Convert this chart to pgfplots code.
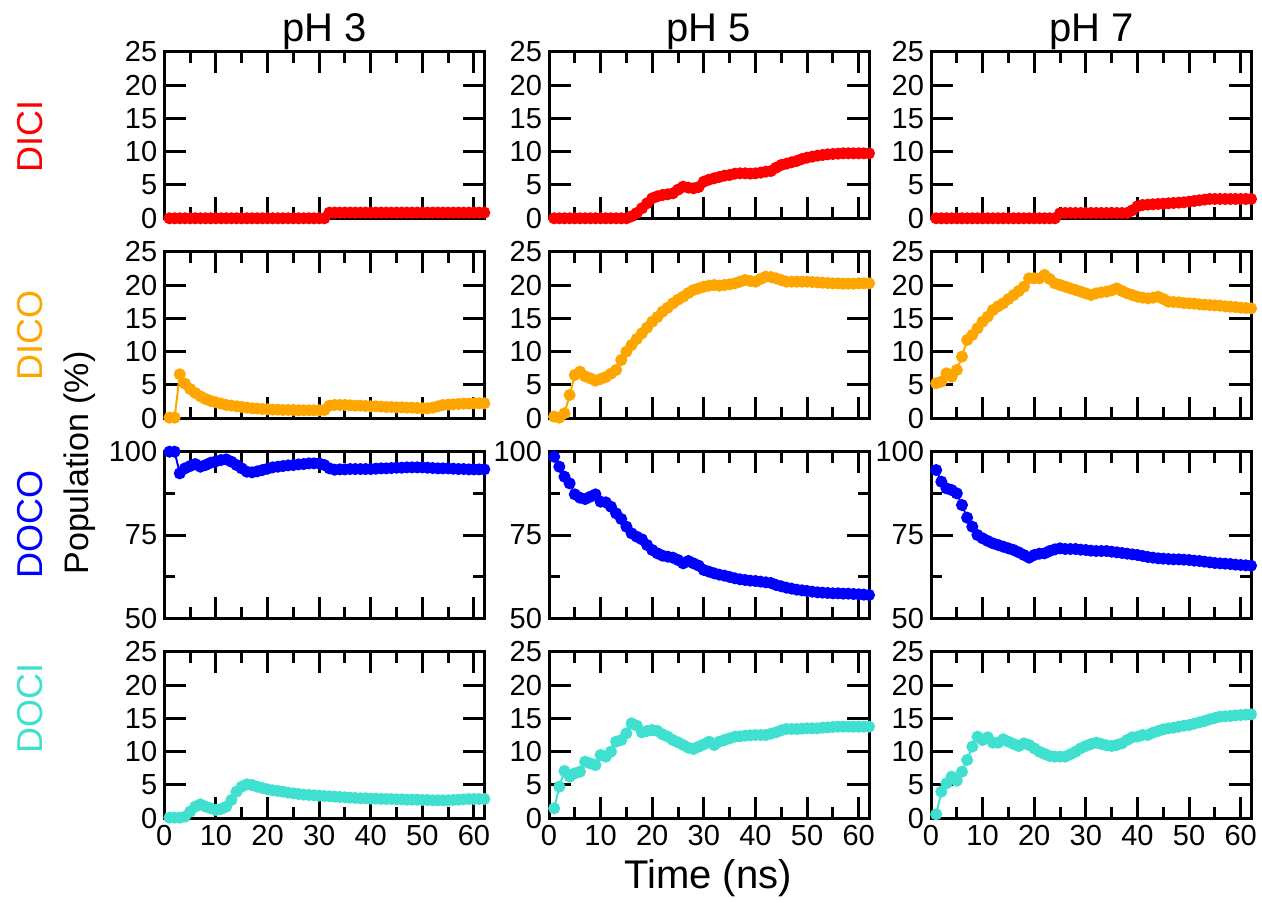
\documentclass[border=0pt]{standalone}
\usepackage{fontspec}
\setmainfont{Liberation Sans}
\usepackage{pgfplots}
\usepackage{pgfplotstable}
\pgfplotsset{compat=1.18}

\definecolor{cDICI}{RGB}{255,0,0}
\definecolor{cDICO}{RGB}{255,165,0}
\definecolor{cDOCO}{RGB}{0,0,255}
\definecolor{cDOCI}{RGB}{64,224,208}

\pgfplotstableread{
t dici dico doco doci
1 0 0.1 100 0.1
2 0 0.1 100 0.1
3 0 6.6 93.5 0.1
4 0 5.2 95 0.25
5 0 4.4 95.7 1.0
6 0 3.8 96.3 1.75
7 0 3.3 95.5 2.1
8 0 2.9 96 1.75
9 0 2.6 96.7 1.5
10 0 2.4 97.1 1.25
11 0 2.2 97.5 1.4
12 0 2.0 97.7 1.75
13 0 1.9 97 2.75
14 0 1.8 96 4.0
15 0 1.7 95 4.75
16 0 1.6 94 5.1
17 0 1.5 93.8 5.0
18 0 1.45 94.1 4.75
19 0 1.4 94.5 4.55
20 0 1.35 94.9 4.35
21 0 1.3 95.3 4.2
22 0 1.3 95.5 4.1
23 0 1.25 95.7 4.0
24 0 1.25 95.9 3.85
25 0 1.25 96 3.75
26 0 1.2 96.2 3.65
27 0 1.2 96.3 3.55
28 0 1.2 96.5 3.5
29 0 1.2 96.5 3.45
30 0 1.2 96.5 3.4
31 0 1.25 96 3.35
32 0.85 1.9 95 3.3
33 0.85 2.0 94.6 3.25
34 0.85 2.0 94.7 3.2
35 0.85 2.0 94.7 3.15
36 0.85 1.95 94.8 3.1
37 0.85 1.9 94.8 3.05
38 0.85 1.9 94.8 3.0
39 0.85 1.85 94.8 3.0
40 0.85 1.8 94.8 2.95
41 0.85 1.8 94.9 2.95
42 0.85 1.75 95 2.9
43 0.85 1.7 95 2.9
44 0.85 1.7 95.1 2.9
45 0.85 1.65 95.2 2.85
46 0.85 1.65 95.2 2.85
47 0.85 1.6 95.3 2.8
48 0.85 1.6 95.3 2.8
49 0.85 1.55 95.3 2.8
50 0.85 1.5 95.3 2.75
51 0.85 1.5 95.2 2.75
52 0.85 1.6 95.1 2.7
53 0.85 1.8 95 2.7
54 0.85 2.0 95 2.7
55 0.85 2.05 95 2.7
56 0.85 2.1 94.9 2.75
57 0.85 2.15 94.8 2.8
58 0.85 2.2 94.8 2.85
59 0.85 2.2 94.7 2.9
60 0.85 2.25 94.7 2.9
61 0.85 2.25 94.7 2.9
62 0.85 2.25 94.7 2.9
}\phthree

\pgfplotstableread{
t dici dico doco doci
1 0 0.25 98.5 1.5
2 0 0.1 95.5 4.75
3 0 0.75 92.5 7.1
4 0 3.5 90.5 6.25
5 0 6.5 87.2 6.75
6 0 7.0 86.2 7.0
7 0 6.3 85.8 8.5
8 0 6.0 86.5 8.25
9 0 5.65 87.2 8.0
10 0 5.9 85 9.5
11 0 6.2 84.8 9.25
12 0 6.7 83.5 10.0
13 0 7.25 81.5 11.5
14 0 8.75 79.8 11.75
15 0 10.0 77.5 12.75
16 0.3 11.0 75.5 14.25
17 0.8 11.9 74.5 13.9
18 1.5 12.75 73.7 12.9
19 2.25 13.6 72 13.1
20 3.0 14.5 70.5 13.25
21 3.3 15.2 69.5 13.1
22 3.5 16.0 68.8 12.6
23 3.6 16.6 68.5 12.25
24 3.75 17.25 68.2 11.75
25 4.3 17.8 67.5 11.4
26 4.75 18.25 66.5 11.0
27 4.6 18.8 67.2 10.6
28 4.5 19.25 66.5 10.4
29 4.7 19.5 65.8 10.75
30 5.5 19.75 64.5 11.1
31 5.8 19.9 64 11.5
32 6.0 20.0 63.5 11.0
33 6.2 19.9 63.1 11.5
34 6.4 20.0 62.8 11.75
35 6.5 20.1 62.4 12.0
36 6.7 20.25 62 12.25
37 6.75 20.5 61.7 12.3
38 6.75 20.75 61.5 12.4
39 6.7 20.6 61.3 12.45
40 6.75 20.5 61.2 12.5
41 6.85 20.9 61 12.5
42 7.0 21.25 60.8 12.5
43 7.1 21.2 60.6 12.7
44 7.6 21.0 60 12.9
45 8.0 20.75 59.6 13.2
46 8.2 20.5 59.2 13.4
47 8.4 20.5 58.9 13.4
48 8.6 20.5 58.6 13.4
49 8.9 20.5 58.4 13.45
50 9.1 20.5 58.2 13.5
51 9.25 20.45 58 13.5
52 9.4 20.4 57.8 13.5
53 9.5 20.35 57.7 13.6
54 9.6 20.3 57.6 13.65
55 9.65 20.25 57.5 13.7
56 9.7 20.25 57.5 13.75
57 9.75 20.2 57.4 13.75
58 9.75 20.2 57.4 13.75
59 9.75 20.2 57.3 13.75
60 9.75 20.25 57.2 13.75
61 9.75 20.25 57.1 13.75
62 9.75 20.25 57 13.75
}\phfive

\pgfplotstableread{
t dici dico doco doci
1 0 5.25 94.5 0.6
2 0 5.5 91 4.0
3 0 6.75 89 5.25
4 0 6.25 88.5 6.25
5 0 7.25 87.5 5.65
6 0 9.25 84 7.0
7 0 11.75 80.2 8.75
8 0 12.5 77.5 10.75
9 0 13.5 75 12.25
10 0 14.5 74 11.75
11 0 15.25 73.2 12.15
12 0 16.25 72.5 11.35
13 0 16.8 72 11.35
14 0 17.25 71.5 11.85
15 0 17.9 71 11.5
16 0 18.5 70.5 11.15
17 0 19.1 69.8 10.85
18 0 19.75 69 11.25
19 0 21 68.2 11.0
20 0 21 69 10.5
21 0 21 69.4 10.0
22 0 21.5 69.5 9.65
23 0 20.9 70.2 9.35
24 0 20.25 70.7 9.25
25 0.75 20.0 71 9.25
26 0.8 19.75 70.8 9.25
27 0.8 19.5 70.8 9.6
28 0.8 19.25 70.8 10.0
29 0.8 19.0 70.6 10.5
30 0.8 18.75 70.5 10.85
31 0.8 18.5 70.3 11.15
32 0.8 18.75 70.2 11.35
33 0.8 18.9 70.2 11.15
34 0.8 19.0 70.2 10.95
35 0.8 19.2 70 10.85
36 0.8 19.5 69.8 11.0
37 0.8 19.1 69.6 11.25
38 0.8 18.75 69.4 11.75
39 1.2 18.5 69.2 12.15
40 1.8 18.25 69 12.25
41 2.0 18.1 68.7 12.5
42 2.05 18.0 68.4 12.5
43 2.1 18.1 68.2 12.85
44 2.15 18.25 68 13.1
45 2.2 17.9 67.9 13.35
46 2.25 17.5 67.8 13.5
47 2.3 17.45 67.7 13.6
48 2.35 17.4 67.7 13.75
49 2.4 17.3 67.6 13.9
50 2.5 17.25 67.5 14.0
51 2.6 17.2 67.3 14.2
52 2.7 17.1 67.2 14.4
53 2.8 17.05 67 14.6
54 2.9 17.0 66.8 14.85
55 2.9 16.95 66.6 15.05
56 2.9 16.9 66.5 15.25
57 2.9 16.8 66.4 15.3
58 2.9 16.75 66.3 15.35
59 2.9 16.7 66.1 15.45
60 2.9 16.6 66 15.5
61 2.9 16.55 65.9 15.55
62 2.9 16.5 65.8 15.6
}\phseven

\pgfplotsset{
  panel/.style={
    scale only axis, width=160pt, height=83.3pt,
    xmin=0, xmax=62,
    xtick={0,10,...,60}, minor xtick={5,15,...,65},
    tick align=inside,
    major tick length=10.8pt, minor tick length=5.5pt,
    axis line style={line width=1.5pt},
    major tick style={line width=1.5pt, black},
    minor tick style={line width=1.5pt, black},
    clip=false,
    tick label style={font=\fontsize{14.5}{15}\selectfont},
    /pgf/number format/assume math mode=true,
    xticklabels={},
  },
  pct/.style={ymin=0, ymax=25, ytick={0,5,...,25}},
  doco/.style={ymin=50, ymax=100, ytick={50,75,100}, minor ytick={62.5,87.5}},
  bottomrow/.style={xticklabels={0,10,20,30,40,50,60}},
  ser/.style={color=#1, mark=*, mark size=2.5pt, line width=1pt, mark options={solid, fill=#1}},
}

\begin{document}
\begin{tikzpicture}
\path[use as bounding box] (0,0) rectangle (631pt,451pt);

% ---- pH 3 ----
\begin{axis}[panel, pct, at={(82.15pt,341.85pt)}, anchor=south west]
\addplot[ser=cDICI] table[x=t,y=dici]{\phthree};
\end{axis}
\begin{axis}[panel, pct, at={(82.15pt,241.85pt)}, anchor=south west]
\addplot[ser=cDICO] table[x=t,y=dico]{\phthree};
\end{axis}
\begin{axis}[panel, doco, at={(82.15pt,141.85pt)}, anchor=south west]
\addplot[ser=cDOCO] table[x=t,y=doco]{\phthree};
\end{axis}
\begin{axis}[panel, pct, bottomrow, at={(82.15pt,41.85pt)}, anchor=south west]
\addplot[ser=cDOCI] table[x=t,y=doci]{\phthree};
\end{axis}

% ---- pH 5 ----
\begin{axis}[panel, pct, at={(274.5pt,341.85pt)}, anchor=south west]
\addplot[ser=cDICI] table[x=t,y=dici]{\phfive};
\end{axis}
\begin{axis}[panel, pct, at={(274.5pt,241.85pt)}, anchor=south west]
\addplot[ser=cDICO] table[x=t,y=dico]{\phfive};
\end{axis}
\begin{axis}[panel, doco, at={(274.5pt,141.85pt)}, anchor=south west]
\addplot[ser=cDOCO] table[x=t,y=doco]{\phfive};
\end{axis}
\begin{axis}[panel, pct, bottomrow, at={(274.5pt,41.85pt)}, anchor=south west]
\addplot[ser=cDOCI] table[x=t,y=doci]{\phfive};
\end{axis}

% ---- pH 7 ----
\begin{axis}[panel, pct, at={(465.5pt,341.85pt)}, anchor=south west]
\addplot[ser=cDICI] table[x=t,y=dici]{\phseven};
\end{axis}
\begin{axis}[panel, pct, at={(465.5pt,241.85pt)}, anchor=south west]
\addplot[ser=cDICO] table[x=t,y=dico]{\phseven};
\end{axis}
\begin{axis}[panel, doco, at={(465.5pt,141.85pt)}, anchor=south west]
\addplot[ser=cDOCO] table[x=t,y=doco]{\phseven};
\end{axis}
\begin{axis}[panel, pct, bottomrow, at={(465.5pt,41.85pt)}, anchor=south west]
\addplot[ser=cDOCI] table[x=t,y=doci]{\phseven};
\end{axis}

% titles
\node[font=\fontsize{20}{20}\selectfont, anchor=base] at (162.3pt,430pt) {pH 3};
\node[font=\fontsize{20}{20}\selectfont, anchor=base] at (354.2pt,430pt) {pH 5};
\node[font=\fontsize{20}{20}\selectfont, anchor=base] at (545.7pt,430pt) {pH 7};

% row labels
\node[font=\fontsize{18}{18}\selectfont, rotate=90, text=cDICI] at (15pt,383pt) {DICI};
\node[font=\fontsize{18}{18}\selectfont, rotate=90, text=cDICO] at (15pt,283.5pt) {DICO};
\node[font=\fontsize{18}{18}\selectfont, rotate=90, text=cDOCO] at (15pt,189pt) {DOCO};
\node[font=\fontsize{18}{18}\selectfont, rotate=90, text=cDOCI] at (15pt,97pt) {DOCI};

\node[font=\fontsize{17}{17}\selectfont, rotate=90] at (40pt,219.5pt) {Population (\%)};
\node[font=\fontsize{20}{20}\selectfont] at (354pt,12pt) {Time (ns)};
\end{tikzpicture}
\end{document}
